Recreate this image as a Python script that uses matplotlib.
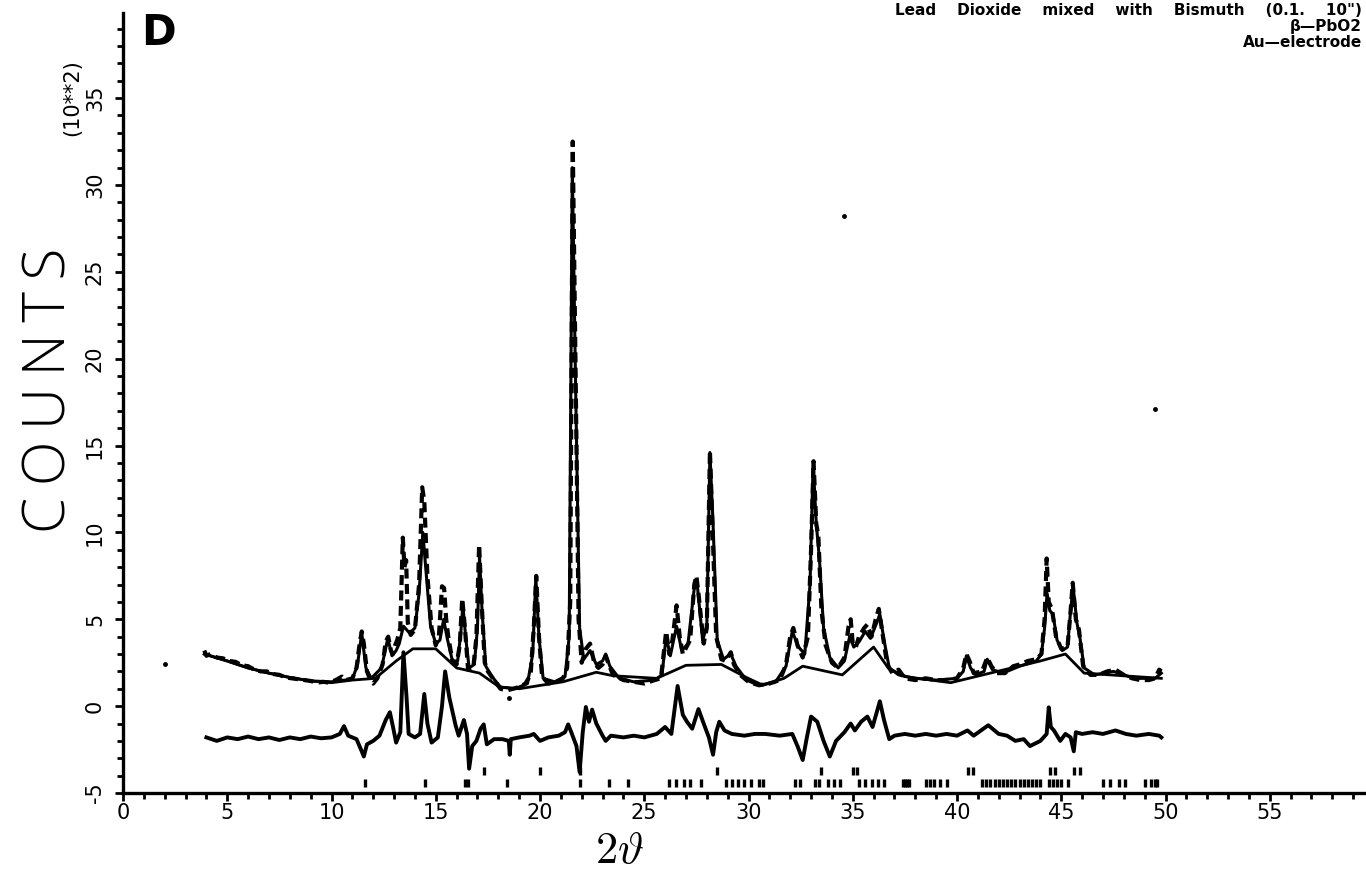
import matplotlib
matplotlib.use("Agg")
from matplotlib import pyplot as plt
from matplotlib.ticker import MultipleLocator

# observed profile, 2theta (deg) vs counts (x100)
obs_x = [3.9, 4.0, 4.2, 4.5, 4.8, 5.1, 5.4, 5.7, 6.0, 6.3, 6.6, 6.9, 7.2, 7.5, 7.8, 8.1, 8.4, 8.7,
         9.0, 9.3, 9.6, 9.9, 10.2, 10.5, 10.7, 11.0, 11.2, 11.35, 11.45, 11.55, 11.7, 11.9, 12.0,
         12.2, 12.45, 12.6, 12.72, 12.85, 12.95, 13.05, 13.15, 13.3, 13.42, 13.5, 13.58, 13.66,
         13.8, 14.0, 14.2, 14.35, 14.45, 14.6, 14.8, 15.0, 15.15, 15.3, 15.4, 15.5, 15.6, 15.8,
         16.0, 16.15, 16.27, 16.4, 16.55, 16.8, 16.95, 17.08, 17.2, 17.35, 17.5, 17.8, 18.1, 18.4,
         18.7, 19.0, 19.3, 19.55, 19.7, 19.82, 19.95, 20.1, 20.4, 20.8, 21.1, 21.3, 21.45, 21.57,
         21.7, 21.85, 22.0, 22.2, 22.4, 22.6, 22.8, 23.0, 23.15, 23.3, 23.5, 24.0, 24.5, 25.0,
         25.5, 25.8, 25.95, 26.05, 26.2, 26.35, 26.55, 26.7, 26.85, 27.2, 27.4, 27.5, 27.6, 27.85,
         28.0, 28.15, 28.28, 28.45, 28.7, 28.9, 29.15, 29.3, 29.6, 30.0, 30.5, 31.0, 31.5, 31.8,
         32.0, 32.15, 32.35, 32.6, 32.85, 33.0, 33.12, 33.25, 33.35, 33.5, 33.7, 34.0, 34.3, 34.6,
         34.8, 34.9, 35.0, 35.15, 35.3, 35.55, 35.7, 35.9, 36.1, 36.25, 36.45, 36.65, 36.9, 37.2,
         37.5, 38.0, 38.5, 39.0, 39.5, 40.0, 40.3, 40.45, 40.6, 40.8, 41.2, 41.45, 41.65, 41.9,
         42.3, 42.7, 43.0, 43.4, 43.8, 44.05, 44.2, 44.3, 44.4, 44.55, 44.75, 45.0, 45.3, 45.45,
         45.55, 45.7, 45.85, 46.05, 46.4, 46.8, 47.2, 47.6, 48.0, 48.4, 48.8, 49.2, 49.5, 49.7, 49.8]
obs_y = [3.2, 2.9, 3.0, 2.8, 2.75, 2.6, 2.55, 2.35, 2.3, 2.1, 2.0, 2.0, 1.85, 1.8, 1.65, 1.6, 1.55, 1.5,
         1.45, 1.35, 1.4, 1.35, 1.5, 1.7, 1.5, 1.6, 2.2, 3.6, 4.3, 3.6, 2.0, 1.4, 1.3,
         1.6, 2.4, 3.7, 4.0, 3.2, 3.0, 3.5, 3.8, 4.5, 9.7, 8.0, 8.4, 4.8,
         4.1, 4.4, 7.0, 12.6, 11.8, 7.5, 4.5, 3.5, 4.0, 6.9, 6.8, 5.0, 4.0, 2.6,
         2.4, 3.5, 6.2, 4.5, 2.1, 2.2, 4.0, 9.3, 6.0, 2.5, 2.0, 1.5, 1.0, 0.9,
         1.0, 1.1, 1.3, 1.8, 4.5, 7.5, 4.0, 1.7, 1.3, 1.4, 1.6, 2.2, 6.0, 32.5,
         20.0, 5.0, 2.5, 3.3, 3.6, 2.5, 2.2, 2.4, 2.9, 2.4, 1.8, 1.5, 1.4, 1.3,
         1.5, 1.6, 3.2, 4.3, 3.0, 3.8, 5.8, 4.0, 3.0, 3.8, 7.0, 7.5, 6.5, 3.6,
         4.5, 14.7, 10.0, 4.0, 2.7, 2.6, 3.1, 2.4, 1.8, 1.4, 1.2, 1.3, 1.5, 2.4,
         4.0, 4.5, 3.5, 2.8, 4.0, 9.0, 14.1, 10.5, 9.8, 5.5, 3.5, 2.5, 2.2, 2.8,
         4.6, 5.0, 3.6, 3.4, 4.0, 4.5, 4.7, 4.0, 5.0, 5.6, 4.0, 2.4, 1.9, 2.1,
         1.6, 1.5, 1.6, 1.5, 1.5, 1.6, 2.2, 3.0, 2.6, 1.9, 2.0, 2.8, 2.3, 1.9,
         1.9, 2.3, 2.4, 2.6, 2.7, 3.0, 5.0, 8.5, 6.0, 5.6, 4.0, 3.3, 3.4, 5.5,
         7.1, 5.0, 4.4, 2.3, 1.8, 1.8, 2.0, 2.1, 1.8, 1.6, 1.5, 1.5, 1.6, 2.1, 2.0]

# calculated profile
calc_x = [3.9, 5.0, 6.0, 7.0, 8.0, 9.0, 10.0, 11.0, 11.25, 11.45, 11.65, 11.9, 12.4, 12.7, 12.9,
          13.1, 13.25, 13.45, 13.6, 13.75, 14.0, 14.2, 14.38, 14.55, 14.75, 15.0, 15.2, 15.38,
          15.55, 15.8, 16.05, 16.2, 16.3, 16.45, 16.6, 16.85, 17.0, 17.1, 17.22, 17.4, 17.7, 18.1,
          18.8, 19.4, 19.65, 19.8, 19.95, 20.15, 20.7, 21.2, 21.4, 21.55, 21.7, 21.9, 22.1, 22.4,
          22.7, 23.0, 23.15, 23.35, 23.8, 24.5, 25.5, 25.85, 26.05, 26.25, 26.55, 26.8, 27.1,
          27.4, 27.55, 27.8, 28.0, 28.15, 28.3, 28.5, 28.8, 29.15, 29.4, 29.9, 30.5, 31.3, 31.8,
          32.1, 32.4, 32.7, 32.95, 33.1, 33.25, 33.4, 33.6, 33.9, 34.3, 34.6, 34.85, 35.05, 35.3,
          35.6, 35.85, 36.15, 36.3, 36.5, 36.75, 37.2, 38.0, 39.0, 40.0, 40.3, 40.45, 40.65, 40.9,
          41.3, 41.45, 41.7, 42.2, 43.0, 43.8, 44.05, 44.2, 44.32, 44.45, 44.6, 44.8, 45.05, 45.3,
          45.45, 45.57, 45.75, 45.9, 46.1, 46.6, 47.5, 48.5, 49.5, 49.8]
calc_y = [3.0, 2.6, 2.2, 1.9, 1.65, 1.45, 1.4, 1.55, 2.4, 4.2, 2.2, 1.6, 2.2, 3.9, 2.9,
          3.2, 3.6, 4.6, 4.4, 4.2, 4.5, 6.5, 10.0, 7.5, 4.6, 3.6, 3.8, 5.0,
          3.9, 2.6, 2.6, 4.2, 5.8, 3.8, 2.2, 2.4, 4.5, 8.6, 5.5, 2.3, 1.7, 1.1,
          1.0, 1.3, 3.0, 7.4, 4.0, 1.6, 1.4, 1.7, 4.0, 31.0, 19.0, 4.5, 2.7, 3.2,
          2.4, 2.6, 3.0, 2.3, 1.6, 1.4, 1.5, 1.8, 4.0, 2.9, 4.6, 3.2, 3.6,
          6.8, 6.9, 3.8, 4.6, 14.6, 10.5, 3.8, 2.7, 3.0, 2.3, 1.5, 1.2, 1.4, 2.3,
          4.3, 3.4, 3.0, 7.0, 14.0, 10.5, 8.5, 4.5, 2.8, 2.2, 2.6, 4.0, 3.4, 3.7,
          4.3, 3.9, 4.8, 5.3, 3.8, 2.2, 1.8, 1.6, 1.5, 1.6, 2.0, 2.9, 2.2, 1.8,
          2.0, 2.7, 2.1, 1.9, 2.3, 2.6, 3.0, 4.5, 6.5, 5.5, 5.3, 3.8, 3.2, 3.4,
          5.5, 6.9, 4.8, 3.9, 2.2, 1.8, 2.0, 1.6, 1.6, 1.9]

# background
bg_x = [3.9, 5.0, 6.0, 7.0, 8.0, 9.0, 10.0, 11.0, 12.1, 13.1, 13.9, 15.0, 16.0, 17.1, 18.05,
        19.0, 21.1, 22.7, 23.5, 25.6, 27.0, 28.7, 29.9, 30.7, 31.7, 32.6, 34.5, 36.0, 36.7,
        37.5, 39.7, 44.0, 45.2, 46.1, 49.8]
bg_y = [3.0, 2.6, 2.2, 1.9, 1.65, 1.45, 1.35, 1.5, 1.6, 2.6, 3.3, 3.3, 2.2, 1.9, 1.1,
        1.0, 1.4, 1.95, 1.75, 1.6, 2.35, 2.4, 1.65, 1.2, 1.6, 2.3, 1.8, 3.4, 2.2,
        1.7, 1.35, 2.6, 3.0, 1.9, 1.6]

# difference curve (obs - calc, offset)
diff_x = [4.0, 4.5, 5.0, 5.5, 6.0, 6.5, 7.0, 7.5, 8.0, 8.5, 9.0, 9.5, 10.0, 10.4, 10.6, 10.8,
          11.2, 11.45, 11.55, 11.7, 12.0, 12.3, 12.6, 12.8, 12.95, 13.1, 13.3, 13.45, 13.6, 13.7,
          14.0, 14.25, 14.45, 14.6, 14.8, 15.1, 15.3, 15.45, 15.65, 15.95, 16.1, 16.35, 16.5,
          16.6, 16.75, 16.95, 17.15, 17.3, 17.45, 17.8, 18.2, 18.5, 18.55, 18.6, 19.0, 19.5, 19.7,
          20.0, 20.4, 20.9, 21.2, 21.35, 21.5, 21.75, 21.9, 22.05, 22.2, 22.35, 22.5, 22.7, 23.0,
          23.15, 23.4, 24.0, 24.5, 25.0, 25.6, 26.0, 26.3, 26.6, 26.85, 27.05, 27.3, 27.6, 27.85,
          28.1, 28.3, 28.45, 28.6, 28.85, 29.2, 29.8, 30.3, 30.8, 31.5, 32.1, 32.35, 32.6, 32.8,
          33.0, 33.3, 33.6, 33.9, 34.2, 34.6, 34.9, 35.1, 35.4, 35.7, 35.95, 36.3, 36.5, 36.75,
          37.0, 37.5, 38.0, 38.5, 39.0, 39.5, 40.0, 40.5, 40.8, 41.5, 42.0, 42.4, 42.8, 43.2,
          43.5, 44.0, 44.3, 44.4, 44.5, 44.65, 44.95, 45.2, 45.45, 45.6, 45.7, 46.0, 46.5, 47.0,
          47.6, 48.1, 48.6, 49.2, 49.7, 49.8]
diff_y = [-1.8, -2.0, -1.8, -1.9, -1.75, -1.9, -1.8, -1.95, -1.8, -1.9, -1.75, -1.85, -1.8, -1.6, -1.15, -1.7,
          -1.9, -2.6, -2.9, -2.2, -2.0, -1.7, -0.8, -0.35, -1.2, -2.1, -1.5, 3.1, 0.5, -1.6,
          -1.8, -1.6, 0.7, -1.0, -2.1, -1.8, 0.0, 2.0, 0.5, -1.1, -1.7, -0.8, -1.6,
          -3.6, -2.3, -2.0, -1.3, -1.05, -2.2, -1.9, -1.9, -2.0, -2.8, -1.9, -1.8, -1.7, -1.6,
          -2.0, -1.8, -1.7, -1.5, -1.05, -1.5, -2.3, -3.8, -1.5, -0.05, -0.9, -0.2, -1.0, -1.7,
          -2.0, -1.7, -1.8, -1.7, -1.8, -1.6, -1.2, -1.6, 1.16, -0.5, -0.9, -1.3, -0.17, -1.0,
          -1.8, -2.8, -1.5, -0.9, -1.4, -1.6, -1.7, -1.6, -1.6, -1.7, -1.6, -2.3, -3.1, -1.8,
          -0.6, -0.9, -2.0, -2.9, -2.0, -1.5, -1.0, -1.4, -0.9, -0.6, -1.2, 0.28, -0.8, -1.9,
          -1.7, -1.6, -1.7, -1.6, -1.7, -1.6, -1.7, -1.4, -1.7, -1.1, -1.6, -1.7, -2.0, -1.9,
          -2.3, -2.0, -1.6, -0.07, -1.2, -1.4, -2.0, -1.6, -1.8, -2.6, -1.5, -1.6, -1.5, -1.6,
          -1.4, -1.6, -1.7, -1.6, -1.7, -1.8]

# reflection positions
refl_main = [11.6, 14.5, 16.4, 16.55, 18.4, 21.9, 23.3, 24.2, 26.2, 26.5, 26.9, 27.2, 27.7, 28.9,
             29.2, 29.5, 29.8, 30.1, 30.5, 30.7, 32.25, 32.45, 33.2, 33.37, 33.8, 34.1, 34.4, 35.3,
             35.6, 35.9, 36.2, 36.5, 37.4, 37.5, 37.6, 37.7, 38.5, 38.7, 38.9, 39.2, 39.5, 41.2,
             41.4, 41.6, 41.8, 42.0, 42.2, 42.4, 42.6, 42.8, 43.0, 43.2, 43.4, 43.6, 43.8, 44.0,
             44.4, 44.6, 44.8, 45.0, 45.3, 47.0, 47.35, 47.75, 48.05, 49.0, 49.3, 49.5, 49.6]
refl_second = [17.3, 20.0, 21.9, 28.47, 33.5, 35.0, 35.2, 40.55, 40.75, 44.45, 44.7, 45.6, 45.9]

# stray specks on the scan
speck_x = [2.0, 18.5, 34.6, 49.5]
speck_y = [2.4, 0.45, 28.2, 17.1]

x_ticks = [0, 5, 10, 15, 20, 25, 30, 35, 40, 45, 50, 55]
y_ticks = [-5, 0, 5, 10, 15, 20, 25, 30, 35]

plt.rcParams["axes.unicode_minus"] = False

W, H = 1366, 874
fig = plt.figure(figsize=(W / 100, H / 100), dpi=100)
ax = fig.add_axes([123 / W, 81 / H, 1 - 123 / W, 780 / H])

ax.plot(calc_x, calc_y, color="black", lw=2.2)
ax.plot(obs_x, obs_y, color="black", lw=3.0, ls=(0, (2.4, 1.3)))
ax.plot(bg_x, bg_y, color="black", lw=2.0)
ax.plot(diff_x, diff_y, color="black", lw=2.8)
ax.plot(refl_main, [-4.4] * len(refl_main), ls="none", marker="|", ms=6, mew=2.4, color="black")
ax.plot(refl_second, [-3.75] * len(refl_second), ls="none", marker="|", ms=6, mew=2.4, color="black")
ax.plot(speck_x, speck_y, ls="none", marker="o", ms=2.5, color="black")

ax.set_xlim(0, (W - 123) / 20.85)
ax.set_ylim(-5, 39.9)
for s in ("top", "right"):
    ax.spines[s].set_visible(False)
for s in ("left", "bottom"):
    ax.spines[s].set_linewidth(2.4)

ax.set_xticks(x_ticks)
ax.set_xticklabels([str(v) for v in x_ticks])
ax.set_yticks(y_ticks)
ax.set_yticklabels([str(v) for v in y_ticks], rotation=90, va="center")
ax.xaxis.set_minor_locator(MultipleLocator(1))
ax.yaxis.set_minor_locator(MultipleLocator(1))
ax.tick_params(which="major", direction="out", length=6, width=2, labelsize=15, pad=1)
ax.tick_params(which="minor", direction="out", length=4, width=2)
ax.tick_params(axis="y", which="major", pad=7)

fig.text(50 / W, 1 - 390 / H, "C\u2009O\u2009U\u2009N\u2009T\u2009S", rotation=90,
         ha="center", va="center", fontsize=42, family=["Open Sans", "DejaVu Sans"], weight="light")
fig.text(72 / W, 1 - 98 / H, "(10**2)", rotation=90, ha="center", va="center", fontsize=15)
fig.text(141 / W, 1 - 12 / H, "D", ha="left", va="top", fontsize=30, weight="bold")

gap = " " * 4
fig.text(1362 / W, 1 - 3 / H, gap.join(["Lead", "Dioxide", "mixed", "with", "Bismuth", "(0.1.", '10")']),
         ha="right", va="top", fontsize=11, weight="bold")
fig.text(1362 / W, 1 - 19 / H, "\u03b2\u2014PbO2", ha="right", va="top", fontsize=11, weight="bold")
fig.text(1362 / W, 1 - 35 / H, "Au\u2014electrode", ha="right", va="top", fontsize=11, weight="bold")

fig.text(620 / W, 1 - 850 / H, r"$2\vartheta$", ha="center", va="center", fontsize=32,
         math_fontfamily="cm")

fig.savefig("out.png", dpi=100)
